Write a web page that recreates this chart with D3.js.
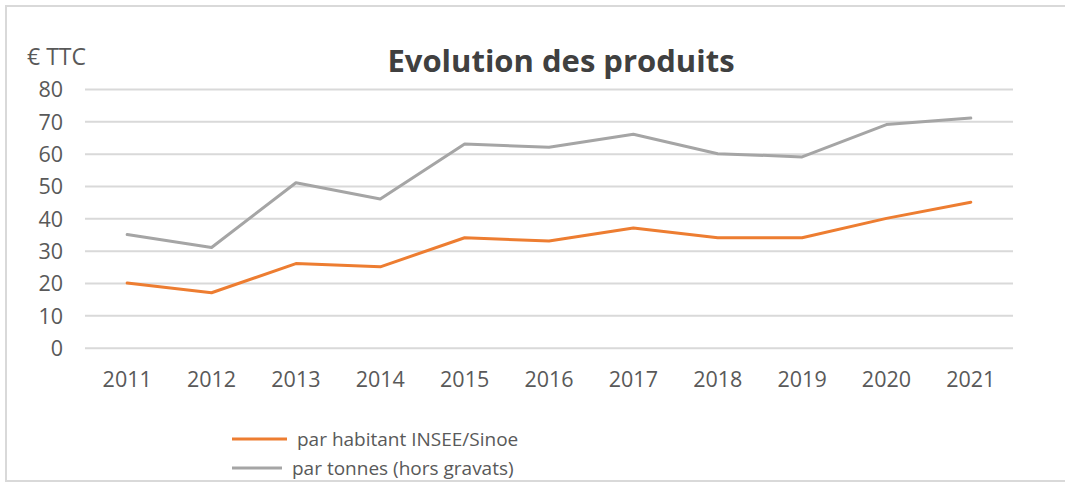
<!DOCTYPE html>
<html>
<head>
<meta charset="utf-8">
<script src="https://cdn.jsdelivr.net/npm/d3@7"></script>
<style>
  html, body { margin: 0; padding: 0; background: #fff; }
  svg { display: block; }
  text { font-family: "Open Sans", "Noto Sans", sans-serif; }
</style>
</head>
<body>
<svg id="chart" width="1065" height="483"></svg>
<script>
// Data
const years = ["2011","2012","2013","2014","2015","2016","2017","2018","2019","2020","2021"];
const parHabitant = [20, 17, 26, 25, 34, 33, 37, 34, 34, 40, 45];
const parTonnes   = [35, 31, 51, 46, 63, 62, 66, 60, 59, 69, 71];
const yTicks = [0, 10, 20, 30, 40, 50, 60, 70, 80];
const seriesNames = ["par habitant INSEE/Sinoe", "par tonnes (hors gravats)"];
const seriesColors = ["#ED7D31", "#A5A5A5"];

const svg = d3.select("#chart");

// Frame around the chart
svg.append("path")
  .attr("d", "M1065,6 H6 V481 H1065")
  .attr("fill", "none")
  .attr("stroke", "#d9d9d9")
  .attr("stroke-width", 2);

const plot = { left: 85, right: 1013, top: 89, bottom: 347.7 };

const x = d3.scaleBand().domain(years).range([plot.left, plot.right]);
const y = d3.scaleLinear().domain([0, 80]).range([plot.bottom, plot.top]);

// Horizontal gridlines and y labels
const yAxis = d3.axisLeft(y).tickValues(yTicks).tickSize(-(plot.right - plot.left)).tickPadding(22);
const gy = svg.append("g").attr("transform", `translate(${plot.left},0)`).call(yAxis);
gy.select(".domain").remove();
gy.selectAll(".tick line").attr("stroke", "#d9d9d9").attr("stroke-width", 2);
gy.selectAll(".tick text")
  .attr("fill", "#595959")
  .style("font-size", "21.5px")
  .attr("dy", "0.36em");

// X labels
const xAxis = d3.axisBottom(x).tickSize(0).tickPadding(24);
const gx = svg.append("g").attr("transform", `translate(0,${plot.bottom})`).call(xAxis);
gx.select(".domain").remove();
gx.selectAll(".tick text")
  .attr("fill", "#595959")
  .style("font-size", "21.5px");

// Lines
const line = d3.line()
  .x((d, i) => x(years[i]) + x.bandwidth() / 2)
  .y(d => y(d));

[parTonnes, parHabitant].forEach((vals, k) => {
  svg.append("path")
    .datum(vals)
    .attr("fill", "none")
    .attr("stroke", k === 0 ? seriesColors[1] : seriesColors[0])
    .attr("stroke-width", 3)
    .attr("stroke-linejoin", "round")
    .attr("stroke-linecap", "round")
    .attr("d", line);
});

// Title
svg.append("text")
  .attr("x", 561)
  .attr("y", 72)
  .attr("text-anchor", "middle")
  .attr("fill", "#404040")
  .style("font-size", "31px")
  .style("font-weight", "bold")
  .text("Evolution des produits");

// Unit label
svg.append("text")
  .attr("x", 27)
  .attr("y", 65)
  .attr("fill", "#595959")
  .style("font-size", "23px")
  .text("€ TTC");

// Legend
const legend = [
  { name: seriesNames[0], color: seriesColors[0], y: 439, x1: 232, x2: 287, tx: 297 },
  { name: seriesNames[1], color: seriesColors[1], y: 468, x1: 232, x2: 282, tx: 292 }
];
const lg = svg.append("g").selectAll("g").data(legend).join("g");
lg.append("line")
  .attr("x1", d => d.x1).attr("x2", d => d.x2)
  .attr("y1", d => d.y).attr("y2", d => d.y)
  .attr("stroke", d => d.color)
  .attr("stroke-width", 3);
lg.append("text")
  .attr("x", d => d.tx)
  .attr("y", d => d.y)
  .attr("dy", "0.35em")
  .attr("fill", "#595959")
  .style("font-size", "19px")
  .text(d => d.name);
</script>
</body>
</html>
